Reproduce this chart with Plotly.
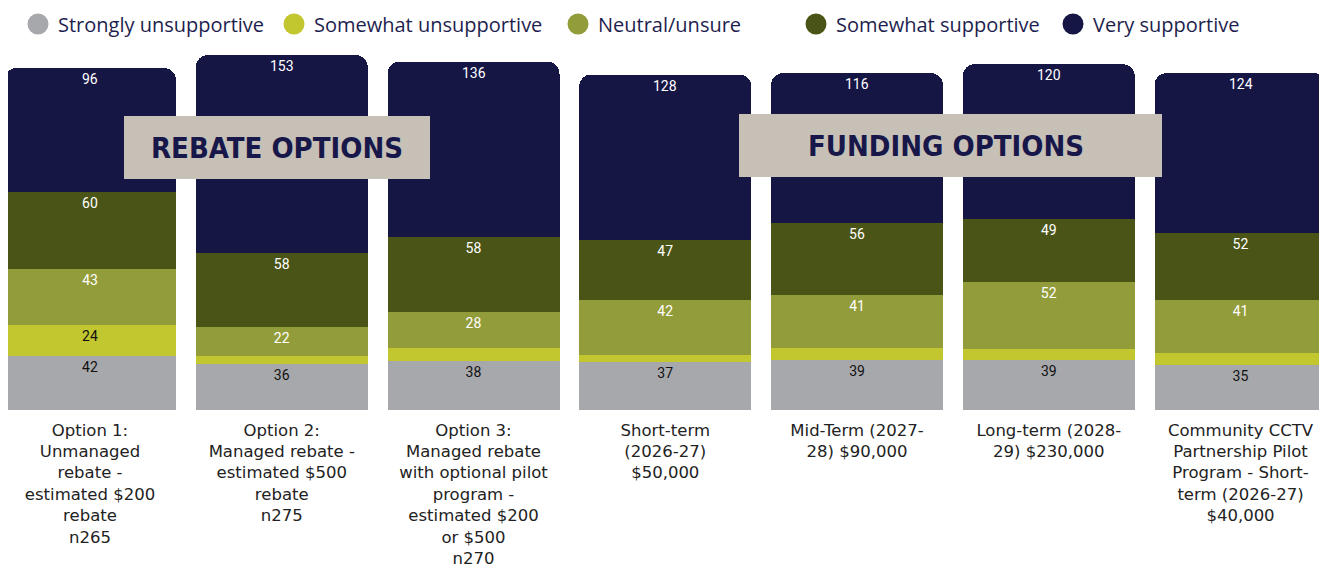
import plotly.graph_objects as go

categories = [
    "Option 1:<br>Unmanaged<br>rebate -<br>estimated $200<br>rebate<br>n265",
    "Option 2:<br>Managed rebate -<br>estimated $500<br>rebate<br>n275",
    "Option 3:<br>Managed rebate<br>with optional pilot<br>program -<br>estimated $200<br>or $500<br>n270",
    "Short-term<br>(2026-27)<br>$50,000",
    "Mid-Term (2027-<br>28) $90,000",
    "Long-term (2028-<br>29) $230,000",
    "Community CCTV<br>Partnership Pilot<br>Program - Short-<br>term (2026-27)<br>$40,000",
]
series_names = ["Strongly unsupportive", "Somewhat unsupportive", "Neutral/unsure",
                "Somewhat supportive", "Very supportive"]
strongly_unsupportive = [42, 36, 38, 37, 39, 39, 35]
somewhat_unsupportive = [24, 6, 10, 6, 9, 8, 9]
neutral_unsure = [43, 22, 28, 42, 41, 52, 41]
somewhat_supportive = [60, 58, 58, 47, 56, 49, 52]
very_supportive = [96, 153, 136, 128, 116, 120, 124]
shown_labels = [
    [True] * 7,
    [True, False, False, False, False, False, False],
    [True] * 7,
    [True] * 7,
    [True] * 7,
]
overlay_titles = ["REBATE OPTIONS", "FUNDING OPTIONS"]

colors = ["#A7A8AB", "#C2C62F", "#939C3A", "#4A5417", "#161645"]
text_colors = ["#111111", "#111111", "#FFFFFF", "#FFFFFF", "#FFFFFF"]
all_series = [strongly_unsupportive, somewhat_unsupportive, neutral_unsure,
              somewhat_supportive, very_supportive]

# page body has an 8px margin; figure coordinates are page coordinates minus 8
OFF = 8
W, H = 1327 - OFF, 571 - OFF
plot_top, plot_bottom = 50 - OFF, 410 - OFF

x = list(range(len(categories)))
fig = go.Figure()
n_series = len(all_series)
for i, (name, vals) in enumerate(zip(series_names, all_series)):
    is_top = i == n_series - 1
    txt = ["" if is_top or not s else str(v) for v, s in zip(vals, shown_labels[i])]
    fig.add_trace(go.Bar(
        x=x, y=vals, name=name, width=0.897,
        marker=dict(color=colors[i], line=dict(width=0)),
        text=txt, textposition="inside", insidetextanchor="end",
        textangle=0, constraintext="none",
        textfont=dict(family="Roboto", size=14, color=text_colors[i]),
        showlegend=False, hoverinfo="y+name",
    ))

# labels of the top (rounded) segment, placed at the top of each stack
totals = [sum(s[k] for s in all_series) for k in range(len(categories))]
for k in range(len(categories)):
    if shown_labels[-1][k]:
        fig.add_annotation(x=x[k], y=totals[k], xref="x", yref="y",
                           text=str(very_supportive[k]), showarrow=False,
                           yanchor="top", yshift=-1,
                           font=dict(family="Roboto", size=14, color=text_colors[-1]))

legend_px = [10, 266, 550, 788, 1045]
for i, name in enumerate(series_names):
    lg = "legend" if i == 0 else f"legend{i+1}"
    fig.add_trace(go.Scatter(
        x=[None], y=[None], mode="markers", name=name, legend=lg,
        marker=dict(color=colors[i], size=16, symbol="circle",
                    line=dict(color=colors[i], width=5)),
        showlegend=True,
    ))

layout_legends = {}
for i, px in enumerate(legend_px):
    key = "legend" if i == 0 else f"legend{i+1}"
    layout_legends[key] = dict(
        x=px / W, y=(plot_bottom - (24 - OFF)) / (plot_bottom - plot_top),
        xref="paper", yref="paper", xanchor="left", yanchor="middle",
        orientation="h", bgcolor="rgba(0,0,0,0)",
        font=dict(family="Open Sans", size=20, color="#1E1E4E"),
        itemsizing="trace",
    )

fig.update_layout(
    width=W, height=H,
    margin=dict(l=0, r=0, t=plot_top, b=H - plot_bottom, pad=0, autoexpand=False),
    plot_bgcolor="white", paper_bgcolor="white",
    barmode="stack", barcornerradius=12,
    xaxis=dict(range=[(OFF - 90) / 191.75, (1327 - 90) / 191.75], tickvals=x, ticktext=categories,
               showgrid=False, zeroline=False, showline=False, ticks="",
               automargin=False, ticklabelstandoff=8,
               tickfont=dict(family="DejaVu Sans", size=16.5, color="#222222")),
    yaxis=dict(range=[0, 279], visible=False, showgrid=False, automargin=False),
    **layout_legends,
)

boxes = [(124, 430, 116, 179), (739, 1162, 114, 177)]
text_cx = [277, 946]
for (x0, x1, y0, y1), title, cx in zip(boxes, overlay_titles, text_cx):
    x0, x1, y0, y1, cx = x0 - OFF, x1 - OFF, y0 - OFF, y1 - OFF, cx - OFF
    fig.add_shape(type="rect", xref="paper", yref="paper",
                  x0=x0 / W, x1=x1 / W,
                  y0=(plot_bottom - y1) / (plot_bottom - plot_top),
                  y1=(plot_bottom - y0) / (plot_bottom - plot_top),
                  fillcolor="#C6C0B7", line=dict(width=0), layer="above")
    fig.add_annotation(xref="paper", yref="paper", x=cx / W,
                       y=(plot_bottom - (y0 + y1) / 2) / (plot_bottom - plot_top),
                       yanchor="middle", xanchor="center",
                       text=f"<b>{title}</b>", showarrow=False,
                       font=dict(family="DejaVu Sans Condensed, Roboto Condensed, Roboto",
                                 size=29, color="#17174A"))

fig.write_html("out.html")
